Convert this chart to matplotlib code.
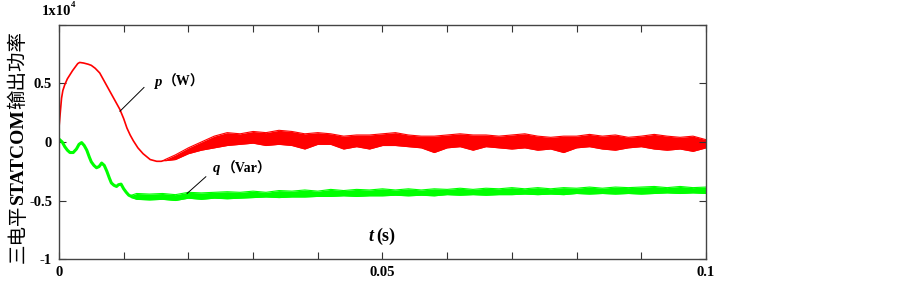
import matplotlib
matplotlib.use('Agg')
import matplotlib.pyplot as plt

plt.rcParams['font.family'] = ['Liberation Serif', 'Noto Sans CJK SC']
plt.rcParams['font.weight'] = 'bold'

# active power p, smooth start (x1e4 W)
p_t = [0, 0.0002, 0.0004, 0.0006, 0.0009, 0.0013, 0.0017, 0.0021, 0.0025, 0.0029,
       0.0032, 0.0038, 0.0045, 0.005, 0.0056, 0.0063, 0.0071, 0.0079, 0.0087, 0.0094,
       0.0100, 0.0105, 0.011, 0.0115, 0.0122, 0.013, 0.0141, 0.0151, 0.0158, 0.0164]
p_val = [0.12, 0.25, 0.375, 0.44, 0.49, 0.54, 0.575, 0.61, 0.64, 0.67,
         0.68, 0.675, 0.665, 0.655, 0.63, 0.59, 0.51, 0.43, 0.35, 0.28,
         0.20, 0.12, 0.06, 0.01, -0.05, -0.10, -0.15, -0.165, -0.165, -0.155]

# active power p, ripple band afterwards
p_band_t = [0.0164, 0.018, 0.020, 0.022, 0.024, 0.026, 0.028, 0.030, 0.032, 0.034, 0.036,
            0.038, 0.040, 0.042, 0.044, 0.046, 0.048, 0.050, 0.052, 0.054, 0.056,
            0.058, 0.060, 0.062, 0.064, 0.066, 0.068, 0.070, 0.072, 0.074, 0.076,
            0.078, 0.080, 0.082, 0.084, 0.086, 0.088, 0.090, 0.092, 0.094, 0.096,
            0.098, 0.100]
p_band_hi = [-0.15, -0.11, -0.05, 0.00, 0.05, 0.08, 0.07, 0.09, 0.08, 0.10, 0.09,
             0.07, 0.08, 0.07, 0.05, 0.06, 0.06, 0.07, 0.08, 0.06, 0.05,
             0.05, 0.06, 0.07, 0.06, 0.06, 0.05, 0.06, 0.07, 0.05, 0.04,
             0.05, 0.05, 0.065, 0.05, 0.06, 0.04, 0.05, 0.065, 0.05, 0.04,
             0.05, 0.02]
p_band_lo = [-0.16, -0.15, -0.10, -0.07, -0.05, -0.03, -0.02, -0.01, -0.03, -0.02, -0.03,
             -0.06, -0.02, -0.02, -0.06, -0.04, -0.06, -0.03, -0.03, -0.04, -0.05,
             -0.09, -0.05, -0.04, -0.07, -0.04, -0.05, -0.06, -0.05, -0.07, -0.06,
             -0.09, -0.05, -0.04, -0.06, -0.07, -0.05, -0.04, -0.06, -0.07, -0.06,
             -0.08, -0.05]

# reactive power q, smooth start (x1e4 Var)
q_t = [0, 0.0005, 0.0009, 0.0013, 0.0017, 0.0022, 0.0027, 0.0031, 0.0035, 0.0039,
       0.0043, 0.0047, 0.005, 0.0054, 0.0058, 0.0062, 0.0066, 0.007, 0.0074, 0.0078,
       0.0081, 0.0085, 0.0089, 0.0092, 0.0096, 0.0100, 0.0104, 0.0108, 0.0112]
q_val = [0.025, 0.0, -0.04, -0.07, -0.09, -0.09, -0.06, -0.02, -0.005, -0.03,
         -0.07, -0.13, -0.17, -0.20, -0.22, -0.21, -0.18, -0.20, -0.25, -0.31,
         -0.35, -0.37, -0.38, -0.365, -0.36, -0.40, -0.43, -0.455, -0.465]

# reactive power q, ripple band
q_band_t = [0.0112, 0.012, 0.014, 0.016, 0.018, 0.020, 0.022, 0.024, 0.026, 0.028, 0.030,
            0.032, 0.034, 0.036, 0.038, 0.040, 0.042, 0.044, 0.046, 0.048, 0.050,
            0.052, 0.054, 0.056, 0.058, 0.060, 0.062, 0.064, 0.066, 0.068, 0.070,
            0.072, 0.074, 0.076, 0.078, 0.080, 0.082, 0.084, 0.086, 0.088, 0.090,
            0.092, 0.094, 0.096, 0.098, 0.100]
q_band_hi = [-0.455, -0.44, -0.445, -0.44, -0.45, -0.43, -0.435, -0.43, -0.425, -0.43, -0.42,
             -0.43, -0.415, -0.42, -0.41, -0.42, -0.405, -0.415, -0.405, -0.41, -0.40,
             -0.41, -0.40, -0.41, -0.40, -0.405, -0.395, -0.405, -0.395, -0.40, -0.39,
             -0.40, -0.39, -0.40, -0.39, -0.395, -0.385, -0.395, -0.385, -0.39, -0.385,
             -0.38, -0.39, -0.38, -0.39, -0.385]
q_band_lo = [-0.475, -0.49, -0.495, -0.49, -0.50, -0.48, -0.49, -0.48, -0.485, -0.48, -0.475,
             -0.47, -0.475, -0.47, -0.47, -0.465, -0.465, -0.46, -0.465, -0.46, -0.46,
             -0.455, -0.46, -0.455, -0.46, -0.45, -0.455, -0.45, -0.455, -0.45, -0.45,
             -0.445, -0.45, -0.445, -0.45, -0.44, -0.445, -0.44, -0.445, -0.44, -0.445,
             -0.44, -0.435, -0.44, -0.435, -0.44]

x_ticks = [0, 0.01, 0.02, 0.03, 0.04, 0.05, 0.06, 0.07, 0.08, 0.09, 0.1]
x_labels = ['0', '', '', '', '', '0.05', '', '', '', '', '0.1']
y_ticks = [-1, -0.5, 0, 0.5, 1]
y_labels = ['-1', '-0.5', '0', '0.5', '']

# y label pieces: Chinese parts in normal weight, STATCOM in bold
ylabel_parts = [('三电平', 'normal'), ('STATCOM', 'bold'), ('输出功率', 'normal')]

red = '#ff0000'
green = '#00ff00'

fig = plt.figure(figsize=(9.03, 2.84), dpi=100)
ax = fig.add_axes([0.0653, 0.088, 0.7165, 0.824])

ax.plot(p_t, p_val, color=red, lw=1.2)
ax.fill_between(p_band_t, p_band_lo, p_band_hi, color=red, lw=0)
ax.plot(p_band_t, p_band_hi, color=red, lw=0.8)
ax.plot(p_band_t, p_band_lo, color=red, lw=0.8)

ax.plot(q_t, q_val, color=green, lw=2.2)
ax.fill_between(q_band_t, q_band_lo, q_band_hi, color=green, lw=0)
ax.plot(q_band_t, q_band_hi, color=green, lw=0.8)
ax.plot(q_band_t, q_band_lo, color=green, lw=0.8)

ax.set_xlim(0, 0.1)
ax.set_ylim(-1, 1)
ax.set_xticks(x_ticks)
ax.set_xticklabels(x_labels)
ax.set_yticks(y_ticks)
ax.set_yticklabels(y_labels)
ax.tick_params(direction='in', length=5, width=0.8, labelsize=10.5,
               top=True, right=True, pad=5, colors='#333333', labelcolor='black')
for s in ax.spines.values():
    s.set_color('#444444')
    s.set_linewidth(1.0)

# labels on the curves
ax.plot([0.01314, 0.00943], [0.466, 0.263], color='black', lw=0.7)
ax.text(0.0147, 0.51, 'p', style='italic', fontsize=10.5, va='center')
ax.text(0.0160, 0.51, '（W）', fontsize=10, va='center')
ax.plot([0.0227, 0.0198], [-0.297, -0.44], color='black', lw=0.7)
ax.text(0.0238, -0.23, 'q', style='italic', fontsize=10.5, va='center')
ax.text(0.0251, -0.23, '（Var）', fontsize=10, va='center')

ax.text(0.0478, -0.81, 't', style='italic', fontsize=13, va='center')
ax.text(0.0491, -0.81, '(s)', fontsize=13, va='center')

ax.text(-0.027, 1.03, '1x10', fontsize=10.5, transform=ax.transAxes, va='bottom')
ax.text(0.019, 1.07, '4', fontsize=6.5, transform=ax.transAxes, va='bottom')

# stack the y label pieces from the bottom up
renderer = fig.canvas.get_renderer()
ypix = 284 - 263
for s, w in ylabel_parts:
    t = fig.text(0.02, ypix / 284, s, rotation=90, fontsize=14, fontweight=w,
                 ha='center', va='bottom')
    ypix += t.get_window_extent(renderer).height

fig.savefig('out.png', dpi=100)
